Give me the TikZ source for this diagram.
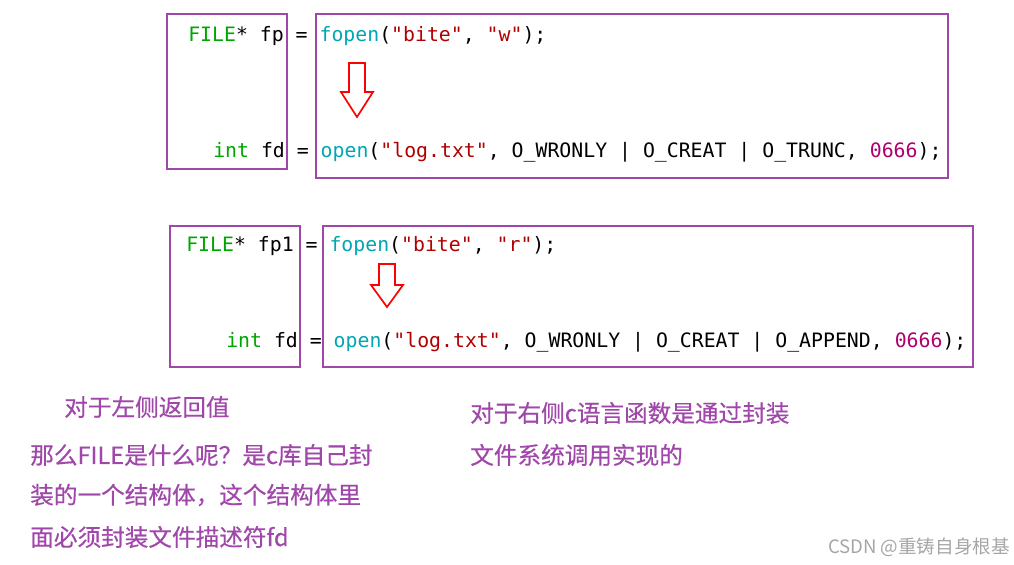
\documentclass[tikz,border=0pt]{standalone}
\usepackage{fontspec}
\setmonofont{DejaVu Sans Mono}
\newfontfamily\cjk{Noto Sans CJK SC}[FakeBold=0.5]
\newfontfamily\cjkr{Noto Sans CJK SC}
\definecolor{kw}{RGB}{0,166,0}
\definecolor{fn}{RGB}{0,166,178}
\definecolor{st}{RGB}{176,0,0}
\definecolor{nm}{RGB}{176,0,110}
\definecolor{pp}{RGB}{160,72,170}
\definecolor{bx}{RGB}{160,72,170}
\begin{document}
\begin{tikzpicture}[x=0.025cm,y=-0.025cm,
  box/.style={draw=bx,line width=1.6pt},
  code/.style={anchor=west,inner sep=0,font=\ttfamily\fontsize{14.1}{16}\selectfont},
  note/.style={anchor=west,inner sep=0,text=pp,font=\cjk\fontsize{16.8}{19}\selectfont},
  harrow/.style={draw=red,line width=1.2pt,fill=white}]
\useasboundingbox (0,0) rectangle (1014,565);
\draw[box] (167,14) rectangle (287,169);
\draw[box] (316,14) rectangle (948,178);
\node[code] (l1) at (188,36) {\textcolor{kw}{FILE}* fp = \textcolor{fn}{fopen}(\textcolor{st}{"bite"}, \textcolor{st}{"w"});};
\node[code] (l2) at (213,152) {\textcolor{kw}{int} fd = \textcolor{fn}{open}(\textcolor{st}{"log.txt"}, O\_WRONLY | O\_CREAT | O\_TRUNC, \textcolor{nm}{0666});};
\draw[harrow] (349,63) -- (365,63) -- (365,92) -- (373,92) -- (357,117) -- (341,92) -- (349,92) -- cycle;
\draw[box] (170,226) rectangle (300,367);
\draw[box] (323,226) rectangle (973,367);
\node[code] (l3) at (186,246) {\textcolor{kw}{FILE}* fp1 = \textcolor{fn}{fopen}(\textcolor{st}{"bite"}, \textcolor{st}{"r"});};
\node[code] (l4) at (226,342) {\textcolor{kw}{int} fd = \textcolor{fn}{open}(\textcolor{st}{"log.txt"}, O\_WRONLY | O\_CREAT | O\_APPEND, \textcolor{nm}{0666});};
\draw[harrow] (379,264) -- (395,264) -- (395,285) -- (403,285) -- (387,307) -- (371,285) -- (379,285) -- cycle;
\node[note] (n1) at (64,407) {对于左侧返回值};
\node[note] (n2) at (30,455) {那么FILE是什么呢？是c库自己封};
\node[note] (n3) at (30,495) {装的一个结构体，这个结构体里};
\node[note] (n4) at (30,537) {面必须封装文件描述符fd};
\node[note] (n5) at (470,413) {对于右侧c语言函数是通过封装};
\node[note] (n6) at (470,455) {文件系统调用实现的};
\node[anchor=east,inner sep=0,text=gray!70,font=\cjkr\fontsize{13.2}{15}\selectfont] (wm) at (1010,547) {CSDN @重铸自身根基};
\end{tikzpicture}
\end{document}
